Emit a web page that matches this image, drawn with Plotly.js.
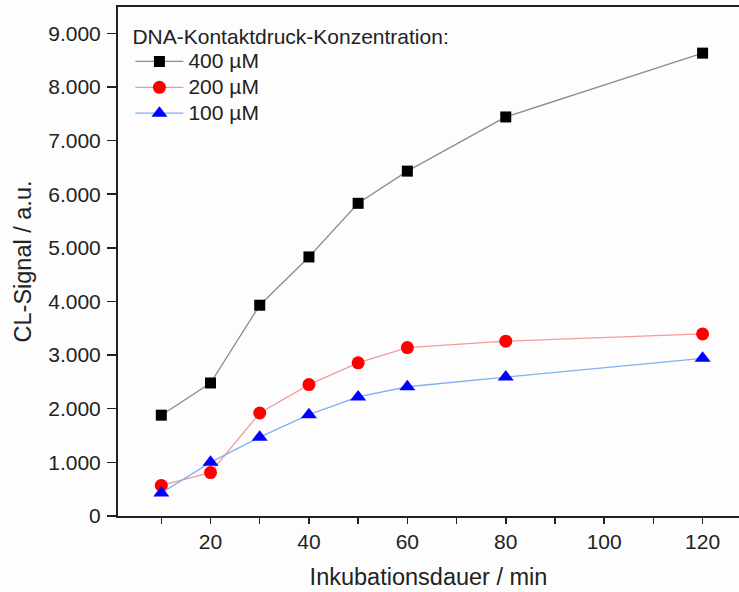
<!DOCTYPE html>
<html>
<head>
<meta charset="utf-8">
<script src="https://cdn.plot.ly/plotly-3.0.1.min.js"></script>
<style>html,body{margin:0;padding:0;background:#fff;}#chart{width:739px;height:592px;}</style>
</head>
<body>
<div id="chart"></div>
<script>
const minutes = [10, 20, 30, 40, 50, 60, 80, 120];
const signal400 = [1880, 2480, 3930, 4830, 5830, 6430, 7440, 8630];
const signal200 = [570, 810, 1920, 2450, 2855, 3140, 3260, 3395];
const signal100 = [430, 1000, 1470, 1890, 2220, 2410, 2590, 2940];
const seriesNames = ['400 µM', '200 µM', '100 µM'];
const legendTitle = 'DNA-Kontaktdruck-Konzentration:';
const xTitle = 'Inkubationsdauer / min';
const yTitle = 'CL-Signal / a.u.';

const font = 'Liberation Sans, Arial, sans-serif';
const big = n => '<span style="font-size:21px">' + n + '</span>';

const traces = [
  {x: minutes, y: signal400, name: big(seriesNames[0]), mode: 'lines+markers', type: 'scatter',
   line: {color: '#8c8c8c', width: 1.3},
   marker: {symbol: 'square', size: 11, color: '#000000'}},
  {x: minutes, y: signal200, name: big(seriesNames[1]), mode: 'lines+markers', type: 'scatter',
   line: {color: '#f29a9a', width: 1.3},
   marker: {symbol: 'circle', size: 13, color: '#ff0000'}},
  {x: minutes, y: signal100, name: big(seriesNames[2]), mode: 'lines+markers', type: 'scatter',
   line: {color: '#7fb0f0', width: 1.3},
   marker: {symbol: 'triangle-up', size: 14, color: '#0000ff'}}
];

const layout = {
  width: 739, height: 592,
  margin: {l: 118, r: 0, t: 7, b: 76},
  paper_bgcolor: '#fdfdfd', plot_bgcolor: '#fdfdfd',
  separators: ',.',
  font: {family: font, size: 20, color: '#222'},
  showlegend: true,
  legend: {
    x: 0.02, y: 0.987, xanchor: 'left', yanchor: 'top',
    bgcolor: 'rgba(0,0,0,0)',
    itemwidth: 48,
    font: {family: font, size: 17.6, color: '#222'},
    title: {text: big(legendTitle), font: {family: font, size: 23, color: '#222'}},
    tracegroupgap: 0
  },
  xaxis: {
    range: [1.2, 127.4],
    tick0: 0, dtick: 20,
    ticks: 'outside', ticklen: 6, tickwidth: 1.5, tickcolor: '#222',
    minor: {dtick: 10, tick0: 0, ticks: 'outside', ticklen: 6, tickwidth: 1.5, tickcolor: '#222', showgrid: false},
    showline: true, linecolor: '#222', linewidth: 2, mirror: true,
    showgrid: false, zeroline: false,
    tickfont: {family: font, size: 21, color: '#222'},
    title: {text: xTitle, font: {family: font, size: 23.5, color: '#222'}, standoff: 16}
  },
  yaxis: {
    range: [0, 9490],
    tick0: 0, dtick: 1000,
    tickformat: ',d',
    ticks: 'outside', ticklen: 9, tickwidth: 1.5, tickcolor: '#222',
    ticklabelstandoff: 2,
    showline: true, linecolor: '#222', linewidth: 2,
    showgrid: false, zeroline: false,
    tickfont: {family: font, size: 21, color: '#222'},
    title: {text: yTitle, font: {family: font, size: 23.5, color: '#222'}, standoff: 10}
  }
};

Plotly.newPlot('chart', traces, layout, {displayModeBar: false, staticPlot: true});
</script>
</body>
</html>
